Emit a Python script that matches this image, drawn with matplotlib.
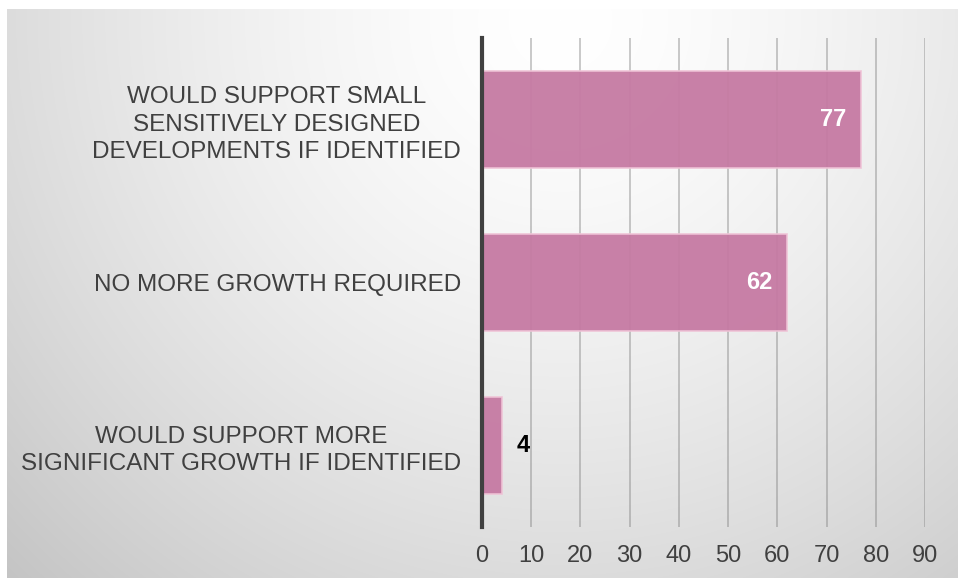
import matplotlib.pyplot as plt
import numpy as np

# Categories (top to bottom) and values
categories = ["WOULD SUPPORT SMALL\nSENSITIVELY DESIGNED\nDEVELOPMENTS IF IDENTIFIED",
              "NO MORE GROWTH REQUIRED",
              "WOULD SUPPORT MORE\nSIGNIFICANT GROWTH IF IDENTIFIED"]
values = [77, 62, 4]
x_ticks = [0, 10, 20, 30, 40, 50, 60, 70, 80, 90]

plt.rcParams['font.family'] = ['Liberation Sans', 'DejaVu Sans']

W, H = 958, 578
fig = plt.figure(figsize=(W / 100, H / 100), dpi=100)
fig.patch.set_facecolor('white')

# Radial gradient background panel
bg = fig.add_axes([7 / W, 0, 1 - 7 / W, 1 - 9 / H])
bg.set_axis_off()
yy, xx = np.mgrid[0:569, 0:951]
r = np.sqrt((xx + 7 - 560) ** 2 + (yy + 9 - 20) ** 2) / 760
g = 1 - 0.22 * np.clip(r, 0, 1.2) ** 1.5
bg.imshow(np.dstack([g, g, g]), aspect='auto', interpolation='bilinear')

# Chart axes
ax = fig.add_axes([482 / W, 1 - 527 / H, (925 - 482) / W, (527 - 38) / H])
ax.patch.set_alpha(0)

ypos = np.arange(len(categories))
bars = ax.barh(ypos, values, height=0.6, color='#c67aa3', alpha=0.95,
               edgecolor='#efc3d6', linewidth=1.2, zorder=3)

ax.set_xlim(0, 90)
ax.set_ylim(len(categories) - 0.5, -0.5)
ax.set_xticks(x_ticks)
ax.set_yticks(ypos)
ax.set_yticklabels(categories, fontsize=17.5, color='#404040', linespacing=1.3,
                   multialignment='center')
ax.tick_params(axis='x', length=0, pad=13, labelsize=17, labelcolor='#404040')
ax.tick_params(axis='y', length=0, pad=15)
ax.grid(axis='x', color='#808080', alpha=0.45, linewidth=1.3, zorder=1)
ax.set_axisbelow(True)
for s in ['top', 'right', 'bottom']:
    ax.spines[s].set_visible(False)
ax.spines['left'].set_color('#404040')
ax.spines['left'].set_linewidth(3)
ax.spines['left'].set_zorder(4)

# Data labels
for yi, v in zip(ypos, values):
    if v > 20:
        ax.text(v - 3, yi, str(v), ha='right', va='center', fontsize=17,
                fontweight='bold', color='white', zorder=5)
    else:
        ax.text(v + 3, yi, str(v), ha='left', va='center', fontsize=17,
                fontweight='bold', color='black', zorder=5)

fig.savefig('out.png', dpi=100)
